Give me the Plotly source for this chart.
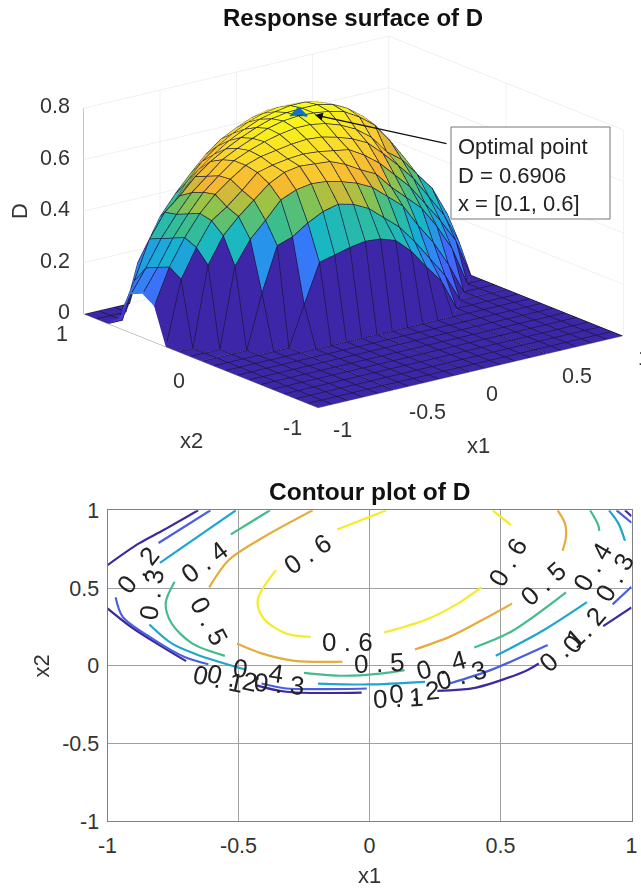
import plotly.graph_objects as go

X1 = [-1.0, -0.9, -0.8, -0.7, -0.6, -0.5, -0.4, -0.3, -0.2, -0.1, 0.0, 0.1, 0.2, 0.3, 0.4, 0.5, 0.6, 0.7, 0.8, 0.9, 1.0]
X2 = [-1.0, -0.9, -0.8, -0.7, -0.6, -0.5, -0.4, -0.3, -0.2, -0.1, 0.0, 0.1, 0.2, 0.3, 0.4, 0.5, 0.6, 0.7, 0.8, 0.9, 1.0]
ZERO = [0.0] * 21
D = [
    ZERO, ZERO, ZERO, ZERO, ZERO, ZERO, ZERO, ZERO, ZERO,
    [0, 0, 0, 0, 0, 0, .155, .305, .32, .335, .345, .34, .32, .265, .19, .12, 0, 0, 0, 0, 0],
    [0, 0, 0, 0, .21, .38, .40, .44, .47, .485, .47, .44, .39, .34, .27, .19, .11, 0, 0, 0, 0],
    [0, 0, 0, .31, .40, .46, .525, .55, .56, .555, .54, .52, .49, .44, .39, .30, .22, .12, 0, 0, 0],
    [0, 0, .31, .41, .47, .52, .57, .60, .61, .605, .60, .575, .54, .51, .445, .39, .335, .25, .15, 0, 0],
    [0, .25, .36, .45, .49, .54, .595, .61, .62, .625, .62, .61, .60, .565, .52, .46, .40, .32, .24, .15, 0],
    [.14, .28, .38, .46, .52, .565, .605, .625, .635, .645, .65, .645, .63, .61, .58, .525, .465, .40, .315, .23, .11],
    [.17, .26, .36, .44, .51, .56, .605, .63, .65, .665, .675, .675, .665, .645, .615, .57, .50, .455, .385, .315, .2],
    [.15, .24, .34, .42, .49, .54, .59, .62, .645, .67, .685, .6906, .688, .68, .665, .63, .585, .51, .425, .31, .2],
    [.04, .17, .32, .41, .46, .52, .565, .60, .63, .655, .675, .685, .688, .688, .675, .645, .60, .525, .44, .35, .22],
    [0, 0, .21, .28, .38, .45, .515, .56, .60, .63, .655, .67, .68, .68, .665, .64, .60, .545, .47, .385, .27],
    [0, 0, 0, .2, .3, .37, .45, .515, .56, .595, .625, .645, .655, .655, .64, .615, .575, .53, .47, .37, .15],
    [0, 0, 0, 0, .2, .31, .385, .45, .51, .555, .585, .61, .625, .625, .61, .59, .555, .51, .44, .32, 0],
]
OPT_X1, OPT_X2, OPT_D = [0.1], [0.6], [0.6906]

CONTOUR_06 = [
    ([0.064, -0.123], [1.0, 0.877]),
    ([-0.357, -0.427, -0.404, -0.318, -0.225], [0.615, 0.422, 0.304, 0.208, 0.186]),
    ([0.056, 0.212, 0.337, 0.427], [0.214, 0.294, 0.40, 0.504]),
    ([0.54, 0.47], [0.905, 1.0]),
]
CONTOUR_05 = [
    ([-0.217, -0.412, -0.537, -0.612], [1.0, 0.82, 0.68, 0.504]),
    ([-0.506, -0.412, -0.287, -0.103], [0.144, 0.08, 0.032, 0.026]),
    ([0.173, 0.305, 0.43, 0.544], [0.105, 0.186, 0.294, 0.40]),
    ([0.737, 0.75, 0.746, 0.718], [0.74, 0.83, 0.916, 1.0]),
]
CONTOUR_04 = [
    ([-0.38, -0.529], [1.0, 0.845]),
    ([-0.744, -0.778, -0.755, -0.677, -0.552], [0.54, 0.40, 0.272, 0.144, 0.064]),
    ([-0.25, -0.1, 0.04, 0.134], [-0.045, -0.064, -0.05, -0.028]),
    ([0.4, 0.54, 0.75], [0.118, 0.219, 0.472]),
    ([0.877, 0.873, 0.842], [0.868, 0.905, 1.0]),
]
CONTOUR_03 = [
    ([-0.51, -0.8], [1.0, 0.662]),
    ([-0.84, -0.755, -0.66, -0.475], [0.266, 0.144, 0.073, -0.024]),
    ([-0.197, -0.006, 0.212], [-0.114, -0.12, -0.103]),
    ([0.482, 0.664, 0.83], [0.064, 0.229, 0.41]),
    ([0.975, 0.95, 0.914], [0.804, 0.916, 1.0]),
]
CONTOUR_02 = [
    ([-0.607, -0.805], [1.0, 0.79]),
    ([-0.969, -0.942, -0.849, -0.708, -0.615], [0.44, 0.315, 0.197, 0.058, 0.01]),
    ([-0.412, -0.318, -0.162, -0.01], [-0.114, -0.146, -0.15, -0.146]),
    ([0.306, 0.462, 0.68], [-0.114, -0.028, 0.133]),
    ([0.928, 1.0], [0.395, 0.508]),
    ([0.943, 1.0], [1.0, 0.92]),
]
CONTOUR_01 = [
    ([-0.654, -0.786, -0.88, -1.0], [1.0, 0.873, 0.787, 0.647]),
    ([-1.0, -0.911, -0.802, -0.7], [0.369, 0.251, 0.133, 0.03]),
    ([-0.435, -0.318, -0.03], [-0.124, -0.167, -0.172]),
    ([0.259, 0.407, 0.602, 0.646], [-0.161, -0.14, -0.028, 0.015]),
    ([0.892, 1.0], [0.255, 0.375]),
    ([0.975, 1.0], [1.0, 0.962]),
]
CONTOURS = [(CONTOUR_01, "#3d2a9e"), (CONTOUR_02, "#4a5fe0"), (CONTOUR_03, "#1fa5cf"),
            (CONTOUR_04, "#45bb8c"), (CONTOUR_05, "#e5ac3c"), (CONTOUR_06, "#f4ec24")]

LABEL_TEXT = ["0 . 6", "0 . 6", "0 . 6", "0 . 5", "0 . 5", "0 . 5", "0 . 4", "0 . 4", "0 . 4", "0 . 4", "0 . 3",
              "0 . 3", "0 . 3", "0 . 3", "0 . 2", "0 . 2", "0 . 2", "0 . 2", "0 . 1", "0 . 1", "0 . 1"]
LABEL_X1 = [-0.237, -0.084, 0.529, 0.037, 0.666, -0.612, -0.63, -0.422, 0.275, 0.85, -0.831,
            -0.342, 0.353, 0.936, -0.883, -0.524, 0.17, 0.82, -0.576, 0.111, 0.735]
LABEL_X2 = [0.722, 0.15, 0.665, 0.021, 0.53, 0.289, 0.669, -0.034, 0.004, 0.637, 0.461,
            -0.114, -0.058, 0.572, 0.615, -0.079, -0.167, 0.229, -0.088, -0.21, 0.099]
LABEL_ANGLE = [-34, 0, -60, -3, -42, 62, -37, 8, -15, -60, -82, 5, -15, -60, -52, 12, -5, -50, 12, -3, -42]

PARULA = [(0.0, (62, 38, 168)), (0.08, (70, 60, 230)), (0.16, (65, 100, 255)), (0.28, (45, 140, 240)),
          (0.42, (18, 182, 205)), (0.55, (60, 190, 140)), (0.66, (150, 195, 70)), (0.74, (245, 180, 50)),
          (0.86, (250, 215, 45)), (1.0, (249, 251, 21))]


def parula(t):
    for (a, ca), (b, cb) in zip(PARULA, PARULA[1:]):
        if t <= b:
            f = (t - a) / (b - a)
            return "rgb(%d,%d,%d)" % tuple(round(p + (q - p) * f) for p, q in zip(ca, cb))
    return "rgb(249,251,21)"


n = len(X1)
vx, vy, vz = [], [], []
for r, x2 in enumerate(X2):
    for c, x1 in enumerate(X1):
        vx.append(x1); vy.append(x2); vz.append(D[r][c])
ti, tj, tk, fc = [], [], [], []
for r in range(n - 1):
    for c in range(n - 1):
        a = r * n + c
        col = parula(D[r][c] / 0.6906)
        ti += [a, a]; tj += [a + 1, a + n + 1]; tk += [a + n + 1, a + n]
        fc += [col, col]

fig = go.Figure()
fig.add_trace(go.Mesh3d(x=vx, y=vy, z=vz, i=ti, j=tj, k=tk, facecolor=fc, flatshading=True,
                        lighting=dict(ambient=1, diffuse=0, specular=0, fresnel=0, roughness=1),
                        hoverinfo="skip", showscale=False))
# edge lines nudged a hair toward the viewer so the faces do not hide them
DX, DY, DZ = -0.009, -0.012, 0.002
lx, ly, lz = [], [], []
for r in range(n):
    lx += [v + DX for v in X1] + [None]
    ly += [X2[r] + DY] * n + [None]
    lz += [v + DZ for v in D[r]] + [None]
for c in range(n):
    lx += [X1[c] + DX] * n + [None]
    ly += [v + DY for v in X2] + [None]
    lz += [D[r][c] + DZ for r in range(n)] + [None]
fig.add_trace(go.Scatter3d(x=lx, y=ly, z=lz, mode="lines", line=dict(color="#1a1a40", width=1.5),
                           hoverinfo="skip", showlegend=False))
fig.add_trace(go.Scatter3d(x=OPT_X1, y=OPT_X2, z=OPT_D, mode="markers",
                           marker=dict(symbol="diamond", size=6, color="#0F74BD"), showlegend=False))

for segs, color in CONTOURS:
    for sx, sy in segs:
        fig.add_trace(go.Scatter(x=sx, y=sy, mode="lines", line=dict(color=color, width=2.2, shape="spline", smoothing=0.9),
                                 xaxis="x", yaxis="y", showlegend=False, hoverinfo="skip"))

AXF = dict(family="Liberation Sans", size=21.5, color="#333333")
TITF = dict(family="Liberation Sans", size=22, color="#333333")
axis3d = dict(showbackground=False, gridcolor="#e2e2e2", gridwidth=1, showline=True, linecolor="#8a8a8a",
              linewidth=1, zeroline=False, showspikes=False, ticks="", showticklabels=False, title=dict(text=""))
anns = []
for t, a, b, ang in zip(LABEL_TEXT, LABEL_X1, LABEL_X2, LABEL_ANGLE):
    anns.append(dict(text=t, x=a, y=b, xref="x", yref="y", showarrow=False, textangle=ang,
                     font=dict(family="Liberation Sans", size=26, color="#222222")))
anns += [
    dict(text="<b>Response surface of D</b>", x=353 / 641, y=1 - 18 / 889, xref="paper", yref="paper",
         xanchor="center", yanchor="middle", showarrow=False,
         font=dict(family="Liberation Sans", size=24, color="#111111")),
    dict(text="<b>Contour plot of D</b>", x=370 / 641, y=1 - 491.7 / 889, xref="paper", yref="paper",
         xanchor="center", yanchor="middle", showarrow=False,
         font=dict(family="Liberation Sans", size=24.5, color="#111111")),
    dict(text="", x=315 / 641, y=1 - 115 / 889, xref="paper", yref="paper", ax=133, ay=29, axref="pixel",
         ayref="pixel", showarrow=True, arrowhead=2, arrowsize=1.2, arrowwidth=1.3, arrowcolor="#111111"),
    dict(text="Optimal point<br>D = 0.6906<br>x = [0.1, 0.6]", x=456 / 641, y=1 - 175.5 / 889, xref="paper",
         yref="paper", xanchor="left", yanchor="middle", align="left", showarrow=False,
         font=dict(family="Liberation Sans", size=22, color="#222222")),
]
TICK_X1 = [-1, -0.5, 0, 0.5, 1]
TICK_X2 = [-1, 0, 1]
TICK_D = [0, 0.2, 0.4, 0.6, 0.8]
scene_anns = []
for v in TICK_X1:
    scene_anns.append(dict(x=v, y=-1, z=0, text=f"{v:g}", showarrow=False, xanchor="left", xshift=13, yshift=-22, font=AXF))
for v in TICK_X2:
    scene_anns.append(dict(x=-1, y=v, z=0, text=f"{v:g}", showarrow=False, xanchor="right", xshift=-14, yshift=-20, font=AXF))
for v in TICK_D:
    scene_anns.append(dict(x=-1, y=1, z=v, text=f"{v:g}", showarrow=False, xanchor="right", xshift=-12, yshift=2, font=AXF))
scene_anns += [
    dict(x=0, y=-1, z=0, text="x1", showarrow=False, xshift=8, yshift=-74, font=TITF),
    dict(x=-1, y=0, z=0, text="x2", showarrow=False, xshift=-9, yshift=-79, font=TITF),
    dict(x=-1, y=1, z=0.4, text="D", showarrow=False, xshift=-65, yshift=0, textangle=-90, font=TITF),
]
r = 3.0
s = 1.733
fig.update_layout(
    width=641, height=889, margin=dict(l=0, r=0, t=0, b=0, autoexpand=False), paper_bgcolor="white",
    plot_bgcolor="white", showlegend=False, annotations=anns,
    shapes=[dict(type="rect", xref="paper", yref="paper", x0=451 / 641, x1=610 / 641, y0=1 - 219 / 889, y1=1 - 127 / 889,
                 fillcolor="white", line=dict(color="#777777", width=1), layer="above")],
    scene=dict(
        domain=dict(x=[66 / 641, 1], y=[1 - 444 / 889, 1]),
        aspectmode="manual", aspectratio=dict(x=s, y=s, z=0.5626 * s),
        annotations=scene_anns,
        camera=dict(eye=dict(x=-0.5795 * r, y=-0.7546 * r, z=0.3074 * r), center=dict(x=0, y=0, z=0),
                    up=dict(x=0, y=0, z=1), projection=dict(type="orthographic")),
        xaxis=dict(axis3d, range=[-1, 1], tickvals=TICK_X1),
        yaxis=dict(axis3d, range=[-1, 1], tickvals=TICK_X2),
        zaxis=dict(axis3d, range=[0, 0.8], tickvals=TICK_D),
    ),
    xaxis=dict(domain=[107.5 / 641, 631.5 / 641], range=[-1, 1], tickvals=TICK_X1,
               ticktext=["-1", "-0.5", "0", "0.5", "1"], showgrid=True, gridcolor="#a0a0a0", gridwidth=1,
               zeroline=False, showline=True, linecolor="#808080", mirror=True, ticks="", tickfont=AXF,
               ticklabelstandoff=5, title=dict(text="x1", font=TITF, standoff=10), anchor="y"),
    yaxis=dict(domain=[67.7 / 889, 378.7 / 889], range=[-1, 1], tickvals=TICK_X1,
               ticktext=["-1", "-0.5", "0", "0.5", "1"], showgrid=True, gridcolor="#a0a0a0", gridwidth=1,
               zeroline=False, showline=True, linecolor="#808080", mirror=True, ticks="", tickfont=AXF,
               ticklabelstandoff=3, title=dict(text="x2", font=TITF, standoff=6), anchor="x"),
)
fig.write_html("out.html", config=dict(displayModeBar=False),
               post_script="document.body.style.margin='0';document.documentElement.style.overflow='hidden';")
